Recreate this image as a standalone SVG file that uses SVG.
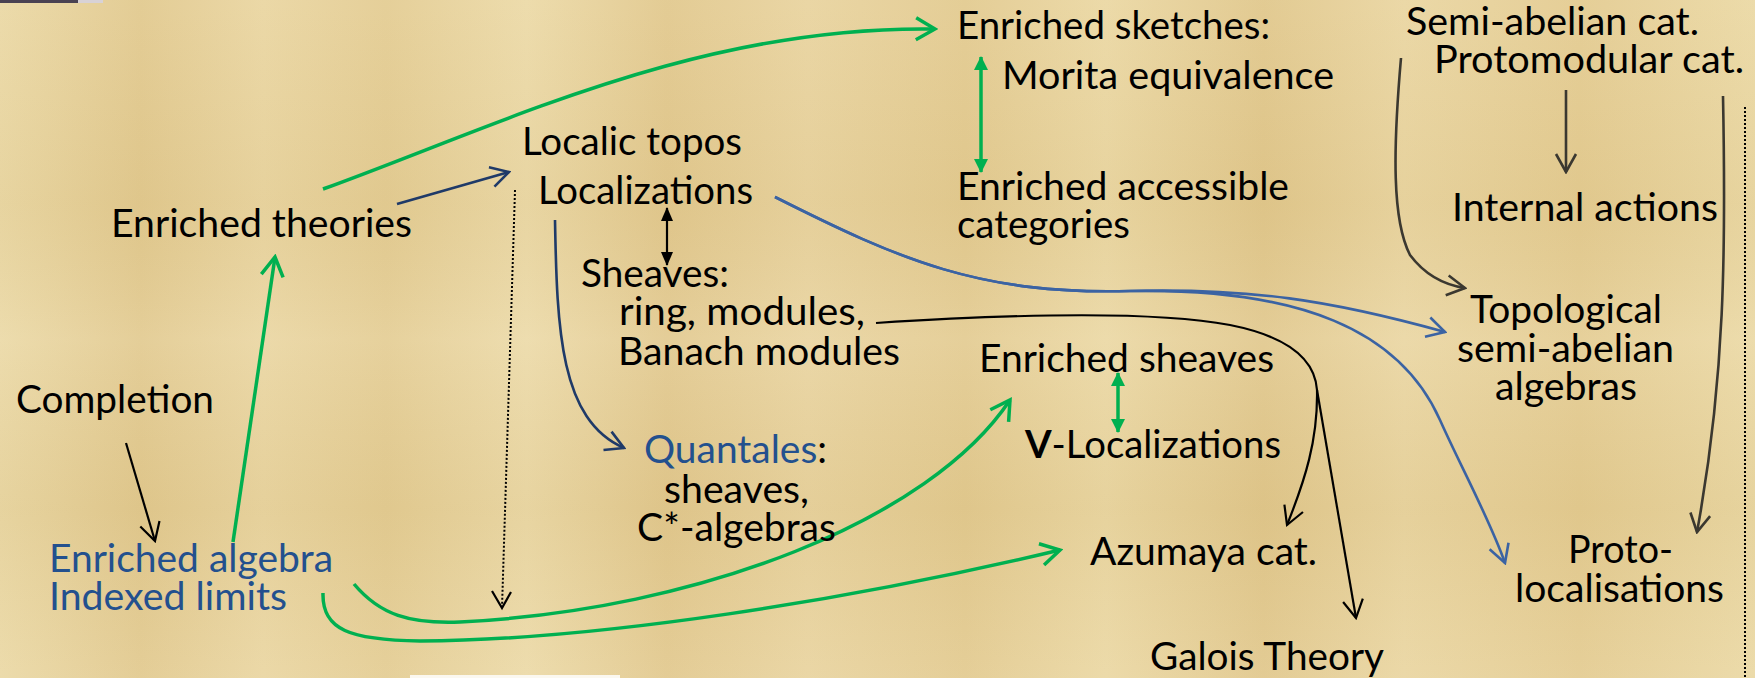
<svg xmlns="http://www.w3.org/2000/svg" width="1755" height="678" viewBox="0 0 1755 678">
<style>
text{font-family:Lato,"Open Sans","Liberation Sans",sans-serif;font-size:38px;fill:#000}
.bl{fill:#23508e}
.g{fill:none;stroke:#00b050;stroke-width:3.5}
.b{fill:none;stroke:#3b63a3;stroke-width:2.6}
.n{fill:none;stroke:#1f3a68;stroke-width:2.6}
.k{fill:none;stroke:#000;stroke-width:2.2}
.d{fill:none;stroke:#3b3830;stroke-width:2.6}
.dot{fill:none;stroke:#000;stroke-width:2;stroke-dasharray:2 2}
</style>
<defs>
<linearGradient id="bgv" x1="0" y1="0" x2="1" y2="0">
<stop offset="0" stop-color="#ebd9a6"/>
<stop offset="0.08" stop-color="#e2ca90"/>
<stop offset="0.15" stop-color="#ead6a2"/>
<stop offset="0.22" stop-color="#e4cd94"/>
<stop offset="0.3" stop-color="#ecdaa8"/>
<stop offset="0.38" stop-color="#e2c98f"/>
<stop offset="0.46" stop-color="#e9d4a0"/>
<stop offset="0.55" stop-color="#e3cb91"/>
<stop offset="0.63" stop-color="#ebd8a4"/>
<stop offset="0.72" stop-color="#e1c88d"/>
<stop offset="0.8" stop-color="#ead6a2"/>
<stop offset="0.9" stop-color="#e4cc92"/>
<stop offset="1" stop-color="#ebd9a5"/>
</linearGradient>
<linearGradient id="bgh" x1="0" y1="0" x2="0" y2="1">
<stop offset="0" stop-color="#fff" stop-opacity="0.05"/>
<stop offset="0.3" stop-color="#a07a30" stop-opacity="0.05"/>
<stop offset="0.5" stop-color="#fff" stop-opacity="0.08"/>
<stop offset="0.75" stop-color="#a07a30" stop-opacity="0.06"/>
<stop offset="1" stop-color="#fff" stop-opacity="0.06"/>
</linearGradient>
<marker id="ag" markerUnits="userSpaceOnUse" markerWidth="24" markerHeight="28" viewBox="0 0 24 28" refX="21" refY="14" orient="auto"><path d="M2,3 L21,14 L2,25" fill="none" stroke="#00b050" stroke-width="3.5"/></marker>
<marker id="ab" markerUnits="userSpaceOnUse" markerWidth="22" markerHeight="24" viewBox="0 0 22 24" refX="20" refY="12" orient="auto"><path d="M2,2 L20,12 L2,22" fill="none" stroke="#3b63a3" stroke-width="2.6"/></marker>
<marker id="an" markerUnits="userSpaceOnUse" markerWidth="22" markerHeight="24" viewBox="0 0 22 24" refX="20" refY="12" orient="auto"><path d="M2,2 L20,12 L2,22" fill="none" stroke="#1f3a68" stroke-width="2.6"/></marker>
<marker id="ak" markerUnits="userSpaceOnUse" markerWidth="22" markerHeight="24" viewBox="0 0 22 24" refX="20" refY="12" orient="auto"><path d="M2,2 L20,12 L2,22" fill="none" stroke="#000" stroke-width="2.2"/></marker>
<marker id="ad" markerUnits="userSpaceOnUse" markerWidth="22" markerHeight="24" viewBox="0 0 22 24" refX="20" refY="12" orient="auto"><path d="M2,2 L20,12 L2,22" fill="none" stroke="#3b3830" stroke-width="2.6"/></marker>
<marker id="fg" markerUnits="userSpaceOnUse" markerWidth="14" markerHeight="16" viewBox="0 0 14 16" refX="13" refY="8" orient="auto-start-reverse"><path d="M0,1 L14,8 L0,15 Z" fill="#00b050"/></marker>
<marker id="fk" markerUnits="userSpaceOnUse" markerWidth="14" markerHeight="14" viewBox="0 0 14 14" refX="13" refY="7" orient="auto-start-reverse"><path d="M0,1 L14,7 L0,13 Z" fill="#000"/></marker>
</defs>
<rect width="1755" height="678" fill="url(#bgv)"/>
<rect width="1755" height="678" fill="url(#bgh)"/>
<rect x="0" y="0" width="78" height="3" fill="#4a4252"/>
<rect x="78" y="0" width="25" height="3" fill="#d8d2d6"/>
<rect x="410" y="675" width="210" height="3" fill="#fbf8f0"/>

<g id="connectors">
<path class="g" d="M323,189 C500,125 700,25 935,29" marker-end="url(#ag)"/>
<path class="g" d="M233,542 L275,257" marker-end="url(#ag)"/>
<path class="g" d="M354,584 C380,615 410,624 460,622 C700,610 930,520 1010,400" marker-end="url(#ag)"/>
<path class="g" d="M323,593 C322,630 350,640 420,641 C600,640 850,600 1060,550" marker-end="url(#ag)"/>
<path class="g" d="M981,57 L981,172" stroke-width="3" marker-start="url(#fg)" marker-end="url(#fg)"/>
<path class="g" d="M1118,373 L1118,432" stroke-width="3" marker-start="url(#fg)" marker-end="url(#fg)"/>
<path class="k" d="M667,208 L667,265" stroke-width="2.6" marker-start="url(#fk)" marker-end="url(#fk)"/>
<path class="n" d="M397,204 L509,172" marker-end="url(#an)"/>
<path class="n" d="M555,220 C557,330 560,420 624,448" marker-end="url(#an)"/>
<path class="b" d="M775,197 C900,260 980,295 1130,291 C1250,288 1330,300 1445,332" marker-end="url(#ab)"/>
<path class="b" d="M775,197 C900,260 980,295 1130,291 C1300,288 1400,330 1440,420 C1460,465 1490,520 1505,563" marker-end="url(#ab)"/>
<path class="k" d="M876,323 C1000,315 1150,310 1230,325 C1290,337 1315,360 1317,390"/>
<path class="k" d="M1317,390 C1318,440 1305,480 1287,525" marker-end="url(#ak)"/>
<path class="k" d="M1317,390 L1356,618" marker-end="url(#ak)"/>
<path class="k" d="M126,443 L155,541" marker-end="url(#ak)"/>
<path class="dot" d="M515,190 L502,608"/>
<path d="M492,591 L502,608 L511,592" fill="none" stroke="#000" stroke-width="2.2"/>
<path class="dot" d="M1745,107 L1745,678"/>
<path class="d" d="M1401,58 C1393,150 1392,220 1410,255 C1425,275 1445,285 1465,288" marker-end="url(#ad)"/>
<path class="d" d="M1566,90 L1566,172" marker-end="url(#ad)"/>
<path class="d" d="M1723,96 C1726,250 1725,380 1697,532" marker-end="url(#ad)"/>
</g>

<g id="enriched-sketches"><text x="957" y="39" textLength="313" lengthAdjust="spacingAndGlyphs">Enriched sketches:</text></g>
<g id="morita"><text x="1002" y="89" textLength="332" lengthAdjust="spacingAndGlyphs">Morita equivalence</text></g>
<g id="enriched-accessible"><text x="957" y="200" textLength="332" lengthAdjust="spacingAndGlyphs">Enriched accessible</text><text x="957" y="238" textLength="173" lengthAdjust="spacingAndGlyphs">categories</text></g>
<g id="semi-abelian"><text x="1406" y="35" textLength="293" lengthAdjust="spacingAndGlyphs">Semi-abelian cat.</text></g>
<g id="protomodular"><text x="1434" y="73" textLength="310" lengthAdjust="spacingAndGlyphs">Protomodular cat.</text></g>
<g id="internal-actions"><text x="1452" y="221" textLength="266" lengthAdjust="spacingAndGlyphs">Internal actions</text></g>
<g id="localic-topos"><text x="522" y="155" textLength="220" lengthAdjust="spacingAndGlyphs">Localic topos</text></g>
<g id="localizations"><text x="538" y="204" textLength="215" lengthAdjust="spacingAndGlyphs">Localizations</text></g>
<g id="enriched-theories"><text x="111" y="237" textLength="301" lengthAdjust="spacingAndGlyphs">Enriched theories</text></g>
<g id="sheaves"><text x="581" y="287" textLength="148" lengthAdjust="spacingAndGlyphs">Sheaves:</text><text x="619" y="325" textLength="246" lengthAdjust="spacingAndGlyphs">ring, modules,</text><text x="618" y="365" textLength="282" lengthAdjust="spacingAndGlyphs">Banach modules</text></g>
<g id="enriched-sheaves"><text x="979" y="372" textLength="295" lengthAdjust="spacingAndGlyphs">Enriched sheaves</text></g>
<g id="v-localizations"><text x="1025" y="458" textLength="256" lengthAdjust="spacingAndGlyphs"><tspan font-weight="bold">V</tspan>-Localizations</text></g>
<g id="quantales"><text x="644" y="463" textLength="183" lengthAdjust="spacingAndGlyphs"><tspan class="bl">Quantales</tspan>:</text><text x="664" y="503" textLength="145" lengthAdjust="spacingAndGlyphs">sheaves,</text><text x="637" y="541" textLength="199" lengthAdjust="spacingAndGlyphs">C*-algebras</text></g>
<g id="completion"><text x="16" y="413" textLength="198" lengthAdjust="spacingAndGlyphs">Completion</text></g>
<g id="enriched-algebra"><text class="bl" x="49" y="572" textLength="284" lengthAdjust="spacingAndGlyphs">Enriched algebra</text><text class="bl" x="49" y="610" textLength="238" lengthAdjust="spacingAndGlyphs">Indexed limits</text></g>
<g id="azumaya"><text x="1090" y="565" textLength="227" lengthAdjust="spacingAndGlyphs">Azumaya cat.</text></g>
<g id="galois"><text x="1150" y="670" textLength="234" lengthAdjust="spacingAndGlyphs">Galois Theory</text></g>
<g id="topological"><text x="1470" y="323" textLength="192" lengthAdjust="spacingAndGlyphs">Topological</text><text x="1457" y="362" textLength="217" lengthAdjust="spacingAndGlyphs">semi-abelian</text><text x="1495" y="400" textLength="142" lengthAdjust="spacingAndGlyphs">algebras</text></g>
<g id="proto-localisations"><text x="1568" y="563" textLength="105" lengthAdjust="spacingAndGlyphs">Proto-</text><text x="1515" y="602" textLength="209" lengthAdjust="spacingAndGlyphs">localisations</text></g>
</svg>
